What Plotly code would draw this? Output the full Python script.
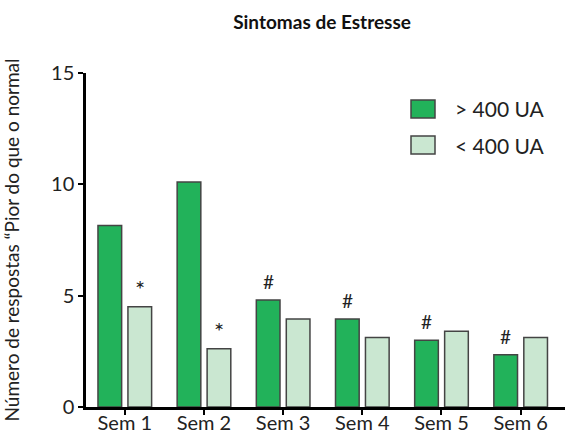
import plotly.graph_objects as go

# Weekly counts of "worse than normal" stress-symptom responses
weeks = ["Sem 1", "Sem 2", "Sem 3", "Sem 4", "Sem 5", "Sem 6"]
high_load = [8.15, 10.1, 4.8, 3.95, 3.0, 2.35]    # > 400 UA
low_load = [4.5, 2.62, 3.95, 3.12, 3.4, 3.12]     # < 400 UA
high_marks = ["", "", "#", "#", "#", "#"]
low_marks = ["*", "*", "", "", "", ""]

series_names = ["> 400 UA", "< 400 UA"]
dark_green = "#22b25a"
light_green = "#cae7d1"
edge = "#444444"
font_family = "Lato, 'Open Sans', sans-serif"

fig = go.Figure()
fig.add_trace(go.Bar(x=weeks, y=high_load, name=series_names[0],
                     marker=dict(color=dark_green, line=dict(color=edge, width=1.5)),
                     showlegend=False))
fig.add_trace(go.Bar(x=weeks, y=low_load, name=series_names[1],
                     marker=dict(color=light_green, line=dict(color=edge, width=1.5)),
                     showlegend=False))

# significance markers above bars
bar_shift = 15
for wk, val, mk in zip(weeks, high_load, high_marks):
    if mk:
        fig.add_annotation(x=wk, y=val, text=mk, showarrow=False, xshift=-bar_shift,
                           yanchor="bottom", yshift=5,
                           font=dict(size=19, color="#222", family=font_family))
for wk, val, mk in zip(weeks, low_load, low_marks):
    if mk:
        fig.add_annotation(x=wk, y=val, text=mk, showarrow=False, xshift=bar_shift,
                           yanchor="bottom", yshift=2,
                           font=dict(size=24, color="#222", family=font_family))

# legend drawn as boxes with labels
legend_items = [(series_names[0], dark_green, 0.0), (series_names[1], light_green, 36)]
for name, col, dy in legend_items:
    fig.add_shape(type="rect", xref="paper", yref="paper",
                  x0=(411 - 86) / 479, x1=(435 - 86) / 479,
                  y0=(407 - 118 - dy) / 334, y1=(407 - 100 - dy) / 334,
                  fillcolor=col, line=dict(color=edge, width=1.5))
    fig.add_annotation(xref="paper", yref="paper", x=(453 - 86) / 479,
                       y=(407 - 109 - dy) / 334, text=name, showarrow=False,
                       xanchor="left", yanchor="middle",
                       font=dict(size=21, color="#222", family=font_family))

fig.update_layout(
    width=567, height=437,
    margin=dict(l=86, r=2, t=73, b=30, autoexpand=False),
    paper_bgcolor="white", plot_bgcolor="white",
    barmode="group", bargap=0.243, bargroupgap=0.21,
    title=dict(text="<b>Sintomas de Estresse</b>", x=0.568, xanchor="center",
               y=1 - 22 / 437, yanchor="middle",
               font=dict(size=19, color="#111", family=font_family)),
    font=dict(family=font_family, color="#222"),
)
fig.update_xaxes(range=[-0.49, 5.56], showline=True, linecolor="black", linewidth=2.5,
                 ticks="outside", ticklen=5, tickwidth=2, tickcolor="black",
                 tickfont=dict(size=20, color="#222"), showgrid=False, zeroline=False,
                 automargin=False, ticklabelstandoff=-9)
fig.update_yaxes(range=[0, 15], tickvals=[0, 5, 10, 15], showline=True, linecolor="black",
                 linewidth=2.5, ticks="outside", ticklen=5, tickwidth=2, tickcolor="black",
                 tickfont=dict(size=20, color="#222"), showgrid=False, zeroline=False,
                 automargin=False,
                 title=dict(text="Número de respostas “Pior do que o normal",
                            font=dict(size=19, color="#222"), standoff=30))

fig.write_html("out.html")
